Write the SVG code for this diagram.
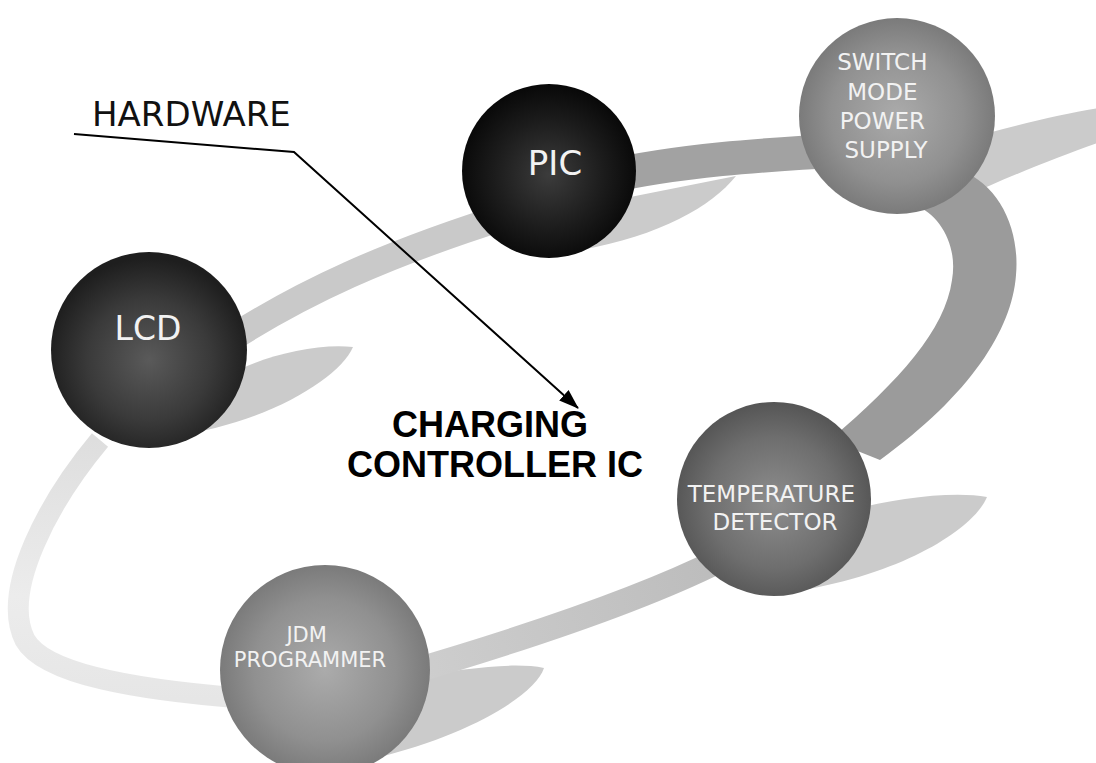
<svg xmlns="http://www.w3.org/2000/svg" width="1096" height="763" viewBox="0 0 1096 763">
  <style>
    .label { font-family: "DejaVu Sans", Verdana, sans-serif; fill: #f2f2f2; text-anchor: middle; }
    .title { font-family: "DejaVu Sans", Verdana, sans-serif; fill: #111; }
    .chip { font-family: "Liberation Sans", Arial, sans-serif; font-weight: bold; fill: #000; text-anchor: middle; font-size: 36px; }
    .leaf { fill: #cbcbcb; }
    .band { fill: none; stroke-linecap: butt; }
  </style>
  <defs>
    <radialGradient id="gBlack" cx="50%" cy="52%" r="52%">
      <stop offset="0" stop-color="#3c3c3c"/>
      <stop offset="0.6" stop-color="#1c1c1c"/>
      <stop offset="1" stop-color="#080808"/>
    </radialGradient>
    <radialGradient id="gDark" cx="50%" cy="55%" r="52%">
      <stop offset="0" stop-color="#5a5a5a"/>
      <stop offset="0.6" stop-color="#3a3a3a"/>
      <stop offset="1" stop-color="#1e1e1e"/>
    </radialGradient>
    <radialGradient id="gMid" cx="50%" cy="52%" r="52%">
      <stop offset="0" stop-color="#8e8e8e"/>
      <stop offset="0.65" stop-color="#6e6e6e"/>
      <stop offset="1" stop-color="#555"/>
    </radialGradient>
    <radialGradient id="gLight" cx="50%" cy="50%" r="52%">
      <stop offset="0" stop-color="#ababab"/>
      <stop offset="0.65" stop-color="#909090"/>
      <stop offset="1" stop-color="#787878"/>
    </radialGradient>
    <linearGradient id="gLower" gradientUnits="userSpaceOnUse" x1="720" y1="560" x2="400" y2="675">
      <stop offset="0" stop-color="#bcbcbc"/>
      <stop offset="1" stop-color="#cfcfcf"/>
    </linearGradient>
    <linearGradient id="gBack" gradientUnits="userSpaceOnUse" x1="0" y1="440" x2="0" y2="700">
      <stop offset="0" stop-color="#dedede"/>
      <stop offset="0.6" stop-color="#ececec"/>
      <stop offset="1" stop-color="#e6e6e6"/>
    </linearGradient>
    <marker id="arrow" viewBox="0 0 20 14" refX="19" refY="7" markerWidth="20" markerHeight="14" markerUnits="userSpaceOnUse" orient="auto">
      <path d="M0,0 L20,7 L0,14 Z" fill="#000"/>
    </marker>
  </defs>

  <rect width="1096" height="763" fill="#fff"/>

  <!-- soft shadows cast by the spheres -->
  <g id="shadows">
    <path class="leaf" d="M215 385 C240 362 310 342 353 347 C340 378 265 425 170 436 Z"/>
    <path class="leaf" d="M590 205 L736 176 C712 206 660 236 580 250 Z" fill="#cdcdcd"/>
    <path class="leaf" d="M955 142 C1005 128 1060 114 1100 108 L1100 142 C1060 156 1010 176 962 198 Z"/>
    <path class="leaf" d="M835 515 C880 500 950 490 987 497 C975 527 905 575 790 592 Z"/>
    <path class="leaf" d="M412 678 C465 668 515 662 544 668 C535 695 470 735 375 758 Z" fill="#d2d2d2"/>
  </g>

  <!-- ring joining the components -->
  <g id="connectors">
    <g id="ring">
      <path class="band" d="M100 440 C50 500 0 590 25 640 C45 675 140 690 240 698" stroke="url(#gBack)" stroke-width="21"/>
      <path class="band" d="M400 675 C520 640 640 600 720 560" stroke="url(#gLower)" stroke-width="25"/>
      <path class="band" d="M235 336 C300 295 380 255 520 212" stroke="#c9c9c9" stroke-width="27"/>
      <path class="band" d="M600 178 C680 160 760 155 850 150" stroke="#a2a2a2" stroke-width="34"/>
      <path d="M960 170 C1000 185 1020 230 1016 275 C1012 330 970 395 880 460 L830 440 C900 380 945 330 952 280 C958 245 940 215 915 205 Z" fill="#9b9b9b"/>
    </g>
    <polyline id="leader" points="74,134 294,152 578,408" fill="none" stroke="#000" stroke-width="2" marker-end="url(#arrow)"/>
  </g>

  <g id="node-lcd">
    <circle cx="149" cy="350" r="98" fill="url(#gDark)"/>
    <text class="label" x="148" y="340" font-size="33">LCD</text>
  </g>

  <g id="node-pic">
    <circle cx="549" cy="171" r="87" fill="url(#gBlack)"/>
    <text class="label" x="555" y="175" font-size="34">PIC</text>
  </g>

  <g id="node-smps">
    <circle cx="897" cy="116" r="98" fill="url(#gLight)"/>
    <text class="label" font-size="23">
      <tspan x="886" y="70">SWITCH</tspan>
      <tspan x="886" y="100">MODE</tspan>
      <tspan x="886" y="129">POWER</tspan>
      <tspan x="886" y="158">SUPPLY</tspan>
    </text>
  </g>

  <g id="node-temp">
    <circle cx="774" cy="499" r="97" fill="url(#gMid)"/>
    <text class="label" font-size="23">
      <tspan x="775" y="502">TEMPERATURE</tspan>
      <tspan x="775" y="530">DETECTOR</tspan>
    </text>
  </g>

  <g id="node-jdm">
    <circle cx="325" cy="670" r="105" fill="url(#gLight)"/>
    <text class="label" font-size="21">
      <tspan x="310" y="642">JDM</tspan>
      <tspan x="310" y="667">PROGRAMMER</tspan>
    </text>
  </g>

  <g id="label-hardware">
    <text class="title" x="92" y="126" font-size="34">HARDWARE</text>
  </g>

  <g id="label-chip">
    <text class="chip">
      <tspan x="495" y="437">CHARGING</tspan>
      <tspan x="495" y="477">CONTROLLER IC</tspan>
    </text>
  </g>
</svg>
